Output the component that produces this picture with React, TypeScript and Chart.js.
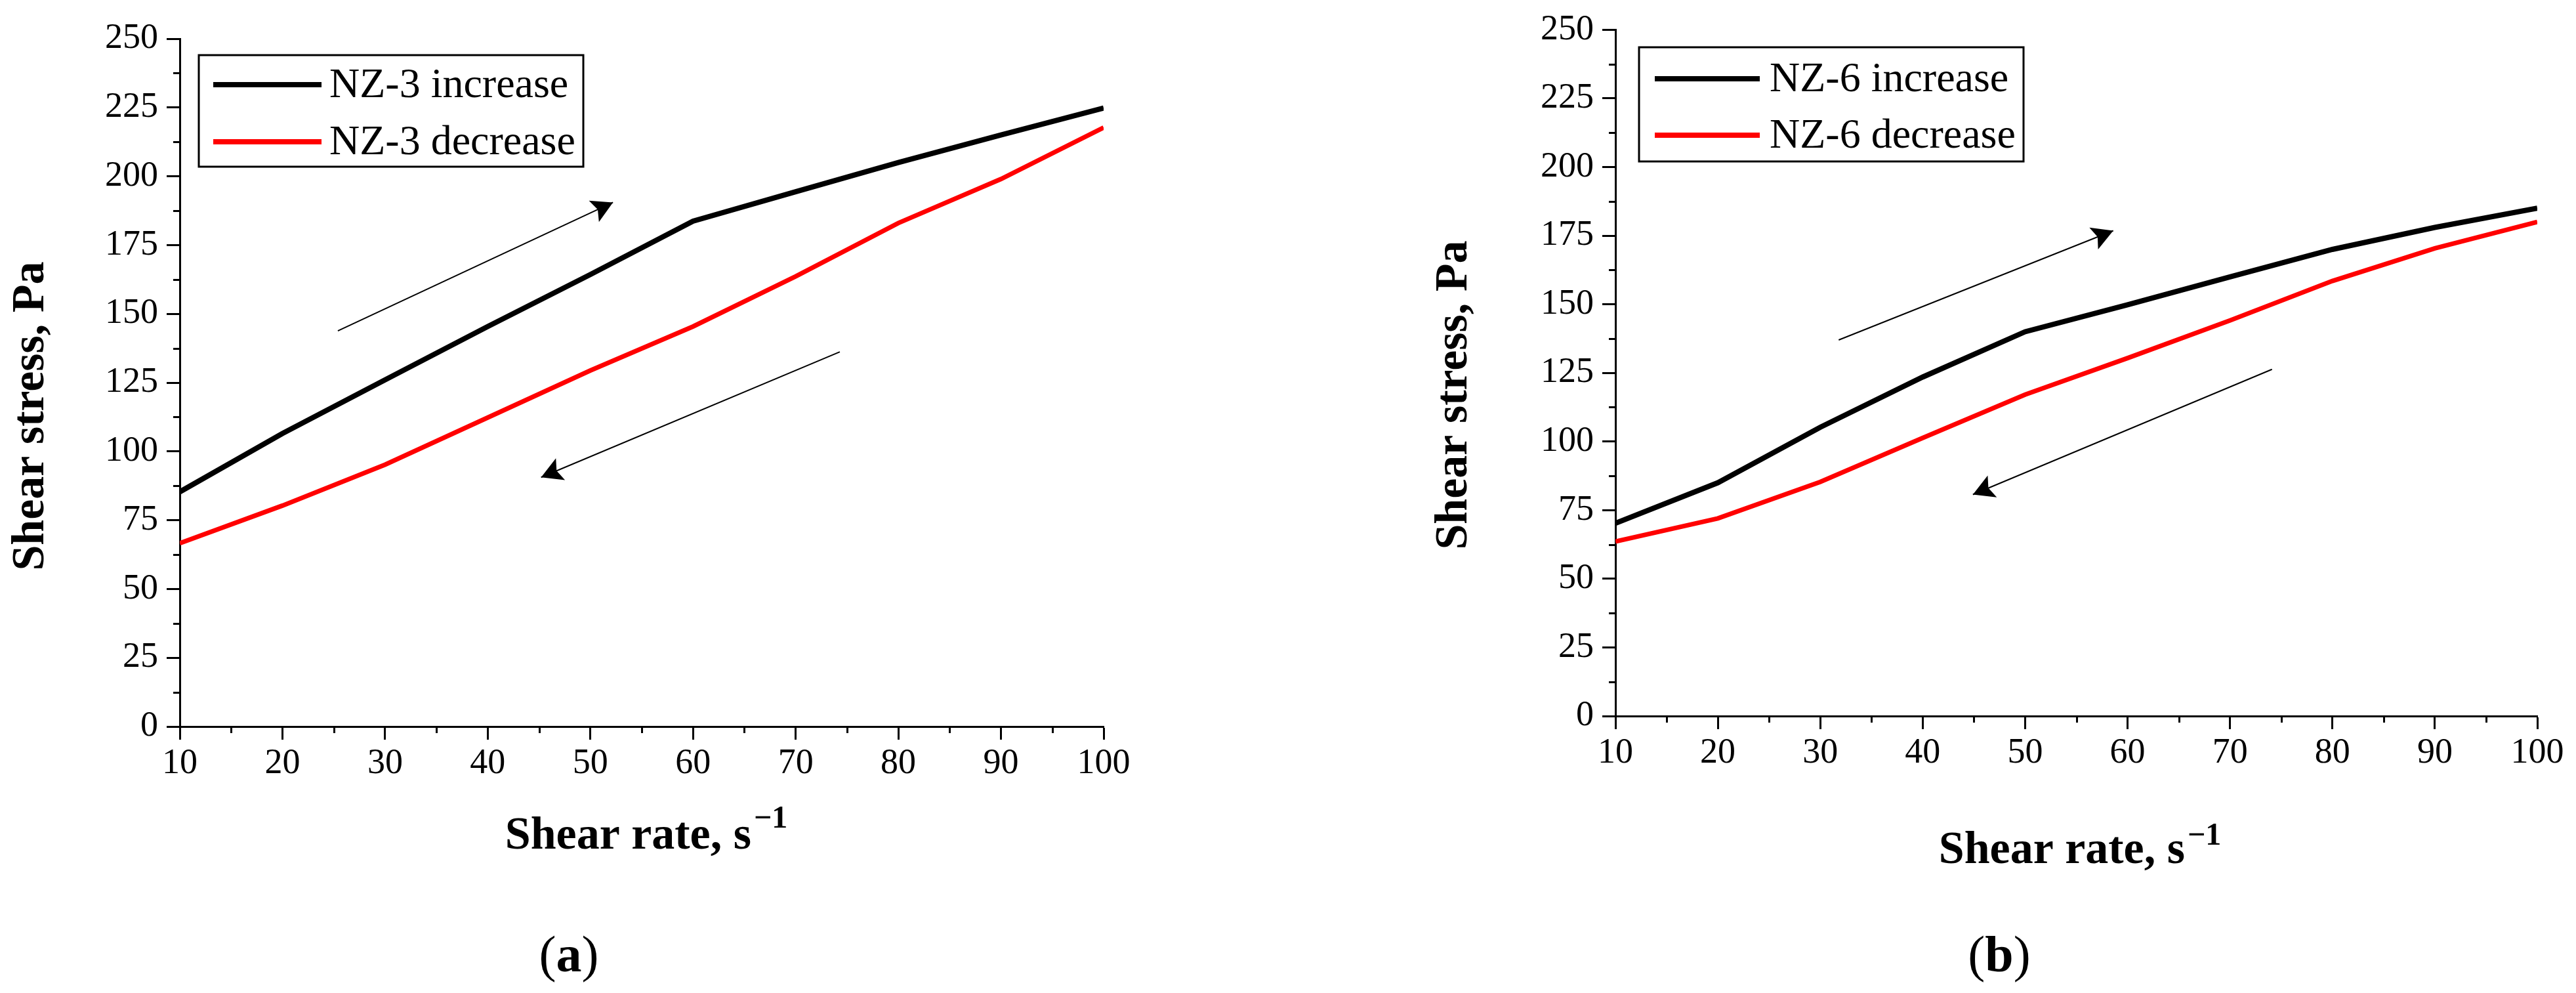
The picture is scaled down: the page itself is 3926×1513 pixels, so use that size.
import React, { useEffect, useRef } from 'react';
import { Chart, registerables } from 'chart.js';

Chart.register(...registerables);

// ---------- data ----------
const shearRates = [10, 20, 30, 40, 50, 60, 70, 80, 90, 100];
const nz3Increase = [85.3, 106.5, 126, 145.4, 164.3, 183.7, 194.4, 205, 215, 224.8];
const nz3Decrease = [66.6, 80.3, 95.2, 112.3, 129.4, 145.4, 163.6, 183, 199, 217.7];
const nz6Increase = [70.2, 85, 105.2, 123.5, 140, 149.8, 160, 170, 178, 185];
const nz6Decrease = [63.6, 72, 85.3, 101.3, 117.1, 130.4, 144.1, 158.5, 170.4, 180];

// arrow guides: [tail, head] in data units
const arrowUpA = [{ x: 25.4, y: 143.8 }, { x: 52.2, y: 190.5 }];
const arrowDownA = [{ x: 74.3, y: 136.2 }, { x: 45.2, y: 90.6 }];
const arrowUpB = [{ x: 31.8, y: 137 }, { x: 58.6, y: 176.8 }];
const arrowDownB = [{ x: 74.1, y: 126.3 }, { x: 44.9, y: 80.7 }];

const legendA = ['NZ-3 increase', 'NZ-3 decrease'];
const legendB = ['NZ-6 increase', 'NZ-6 decrease'];

const xAxisTitle = 'Shear rate, s';
const xAxisSup = '\u22121';
const yAxisTitle = 'Shear stress, Pa';

const xMin = 10, xMax = 100, xStep = 10, xMinor = 5;
const yMin = 0, yMax = 250, yStep = 25, yMinor = 12.5;

const SERIF = "'Liberation Serif', 'Times New Roman', serif";

// ---------- plugins ----------
const minorTicksPlugin = {
  id: 'minorTicks',
  afterDraw(chart: any, _args: any, opts: any) {
    const ctx = chart.ctx;
    const xs = chart.scales.x;
    const ys = chart.scales.y;
    ctx.save();
    ctx.strokeStyle = '#000';
    ctx.lineWidth = opts.width;
    ctx.beginPath();
    for (let v = xs.min + opts.xMinor; v < xs.max; v += 2 * opts.xMinor) {
      const px = Math.round(xs.getPixelForValue(v)) + 0.5;
      ctx.moveTo(px, chart.chartArea.bottom);
      ctx.lineTo(px, chart.chartArea.bottom + opts.length);
    }
    for (let v = ys.min + opts.yMinor; v < ys.max; v += 2 * opts.yMinor) {
      const py = Math.round(ys.getPixelForValue(v)) + 0.5;
      ctx.moveTo(chart.chartArea.left, py);
      ctx.lineTo(chart.chartArea.left - opts.length, py);
    }
    ctx.stroke();
    ctx.restore();
  },
};

const arrowHeadPlugin = {
  id: 'arrowHeads',
  afterDatasetsDraw(chart: any, _args: any, opts: any) {
    const ctx = chart.ctx;
    chart.data.datasets.forEach((ds: any, i: number) => {
      if (!ds.isArrow) return;
      const pts = chart.getDatasetMeta(i).data;
      if (pts.length < 2) return;
      const p0 = pts[pts.length - 2];
      const p1 = pts[pts.length - 1];
      const ang = Math.atan2(p1.y - p0.y, p1.x - p0.x);
      const L = opts.length, W = opts.halfWidth;
      ctx.save();
      ctx.translate(p1.x, p1.y);
      ctx.rotate(ang);
      ctx.fillStyle = ds.borderColor;
      ctx.beginPath();
      ctx.moveTo(0, 0);
      ctx.lineTo(-L, -W);
      ctx.lineTo(-L * opts.notch, 0);
      ctx.lineTo(-L, W);
      ctx.closePath();
      ctx.fill();
      ctx.restore();
    });
  },
};

const boxLegendPlugin = {
  id: 'boxLegend',
  afterDraw(chart: any, _args: any, opts: any) {
    const ctx = chart.ctx;
    ctx.save();
    ctx.strokeStyle = '#000';
    ctx.lineWidth = opts.borderWidth;
    ctx.strokeRect(opts.left, opts.top, opts.width, opts.height);
    ctx.font = opts.font;
    ctx.textAlign = 'left';
    ctx.textBaseline = 'middle';
    let row = 0;
    chart.data.datasets.forEach((ds: any) => {
      if (ds.isArrow) return;
      const y = opts.rows[row++];
      ctx.strokeStyle = ds.borderColor;
      ctx.lineWidth = opts.lineWidth;
      ctx.beginPath();
      ctx.moveTo(opts.lineStart, y);
      ctx.lineTo(opts.lineEnd, y);
      ctx.stroke();
      ctx.fillStyle = '#000';
      ctx.fillText(ds.label, opts.textX, y + 2);
    });
    ctx.restore();
  },
};

const axisTitlesPlugin = {
  id: 'axisTitles',
  afterDraw(chart: any, _args: any, opts: any) {
    const ctx = chart.ctx;
    ctx.save();
    ctx.fillStyle = '#000';
    // y title, rotated
    ctx.font = opts.font;
    ctx.save();
    ctx.translate(opts.yBaselineX, opts.yCenterY);
    ctx.rotate(-Math.PI / 2);
    ctx.textAlign = 'center';
    ctx.textBaseline = 'alphabetic';
    ctx.fillText(opts.yText, 0, 0);
    ctx.restore();
    // x title with superscript
    ctx.font = opts.font;
    const w1 = ctx.measureText(opts.xText).width;
    ctx.font = opts.supFont;
    const w2 = ctx.measureText(opts.xSup).width;
    const total = w1 + opts.supGap + w2;
    const x0 = opts.xCenterX - total / 2;
    ctx.textAlign = 'left';
    ctx.textBaseline = 'alphabetic';
    ctx.font = opts.font;
    ctx.fillText(opts.xText, x0, opts.xBaselineY);
    ctx.font = opts.supFont;
    ctx.fillText(opts.xSup, x0 + w1 + opts.supGap, opts.xBaselineY - opts.supRaise);
    ctx.restore();
  },
};

// ---------- config ----------
function toPoints(ys: number[]) {
  return shearRates.map((x, i) => ({ x, y: ys[i] }));
}

type Layout = {
  width: number;
  height: number;
  area: { left: number; top: number; right: number; bottom: number };
  legend: any;
  titles: any;
};

function makeConfig(labels: string[], inc: number[], dec: number[], arrows: any[][], L: Layout): any {
  const datasets: any[] = [
    { label: labels[0], data: toPoints(inc), borderColor: '#000000', borderWidth: 8 },
    { label: labels[1], data: toPoints(dec), borderColor: '#ff0000', borderWidth: 7 },
    ...arrows.map((a) => ({ label: '', isArrow: true, data: a, borderColor: '#000000', borderWidth: 2 })),
  ].map((d) => ({ ...d, pointRadius: 0, pointHoverRadius: 0, tension: 0, fill: false }));

  const tickFont = { family: SERIF, size: 54 };
  return {
    type: 'line',
    data: { datasets },
    options: {
      responsive: false,
      animation: false,
      devicePixelRatio: 1,
      events: [],
      layout: {
        padding: { left: 0, top: L.area.top, right: L.width - L.area.right, bottom: 0 },
      },
      scales: {
        x: {
          type: 'linear',
          min: xMin,
          max: xMax,
          afterFit: (s: any) => { s.height = L.height - L.area.bottom; },
          ticks: { stepSize: xStep, font: tickFont, color: '#000', padding: 4, maxRotation: 0, autoSkip: false },
          grid: { display: true, drawOnChartArea: false, drawTicks: true, tickLength: 20, tickWidth: 3, tickColor: '#000' },
          border: { display: true, color: '#000', width: 3 },
          title: { display: false },
        },
        y: {
          type: 'linear',
          min: yMin,
          max: yMax,
          afterFit: (s: any) => { s.width = L.area.left; },
          ticks: { stepSize: yStep, font: tickFont, color: '#000', padding: 13 },
          grid: { display: true, drawOnChartArea: false, drawTicks: true, tickLength: 20, tickWidth: 3, tickColor: '#000' },
          border: { display: true, color: '#000', width: 3 },
          title: { display: false },
        },
      },
      plugins: {
        legend: { display: false },
        tooltip: { enabled: false },
        title: { display: false },
        minorTicks: { xMinor, yMinor, length: 10, width: 3 },
        arrowHeads: { length: 32, halfWidth: 18, notch: 0.8 },
        boxLegend: L.legend,
        axisTitles: L.titles,
      },
    },
    plugins: [minorTicksPlugin, arrowHeadPlugin, boxLegendPlugin, axisTitlesPlugin],
  };
}

const titleFont = `bold 70px ${SERIF}`;
const supFont = `bold 48px ${SERIF}`;
const legendFont = `64px ${SERIF}`;

const layoutA: Layout = {
  width: 1900,
  height: 1400,
  area: { left: 274, top: 59, right: 1682, bottom: 1107 },
  legend: { left: 303, top: 84, width: 586, height: 170, borderWidth: 3, lineStart: 325, lineEnd: 490, lineWidth: 8, textX: 502, rows: [129, 216], font: legendFont },
  titles: { font: titleFont, supFont, yText: yAxisTitle, yBaselineX: 66, yCenterY: 634, xText: xAxisTitle, xSup: xAxisSup, xCenterX: 985, xBaselineY: 1293, supGap: 4, supRaise: 32 },
};

const layoutB: Layout = {
  width: 1966,
  height: 1400,
  area: { left: 502, top: 45, right: 1907, bottom: 1091 },
  legend: { left: 538, top: 72, width: 586, height: 174, borderWidth: 3, lineStart: 562, lineEnd: 722, lineWidth: 8, textX: 737, rows: [120, 206], font: legendFont },
  titles: { font: titleFont, supFont, yText: yAxisTitle, yBaselineX: 275, yCenterY: 602, xText: xAxisTitle, xSup: xAxisSup, xCenterX: 1210, xBaselineY: 1315, supGap: 4, supRaise: 28 },
};

function ChartCanvas({ config, left, width, height }: { config: any; left: number; width: number; height: number }) {
  const ref = useRef<HTMLCanvasElement>(null);
  useEffect(() => {
    const chart = new Chart(ref.current as HTMLCanvasElement, config);
    return () => chart.destroy();
  }, [config]);
  return (
    <canvas
      ref={ref}
      width={width}
      height={height}
      style={{ position: 'absolute', left, top: 0, width, height }}
    />
  );
}

const configA = makeConfig(legendA, nz3Increase, nz3Decrease, [arrowUpA, arrowDownA], layoutA);
const configB = makeConfig(legendB, nz6Increase, nz6Decrease, [arrowUpB, arrowDownB], layoutB);

const captionStyle: React.CSSProperties = {
  position: 'absolute',
  top: 1454,
  transform: 'translate(-50%, -50%)',
  fontFamily: SERIF,
  fontSize: 78,
  lineHeight: 1,
  color: '#000',
  whiteSpace: 'nowrap',
};

export default function App() {
  return (
    <div style={{ position: 'fixed', left: 0, top: 0, width: 3926, height: 1513, background: '#fff', overflow: 'hidden' }}>
      <ChartCanvas config={configA} left={0} width={layoutA.width} height={layoutA.height} />
      <ChartCanvas config={configB} left={1960} width={layoutB.width} height={layoutB.height} />
      <div style={{ ...captionStyle, left: 867 }}>(<b>a</b>)</div>
      <div style={{ ...captionStyle, left: 3047 }}>(<b>b</b>)</div>
    </div>
  );
}
